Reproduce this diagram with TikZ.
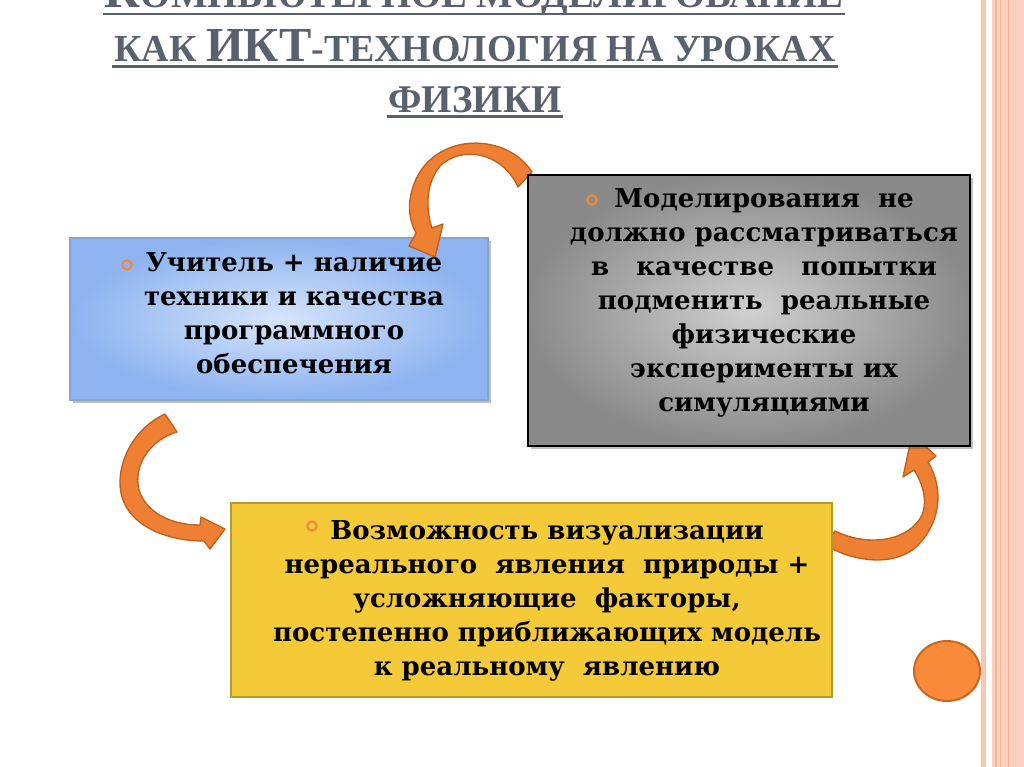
\documentclass[tikz,border=0pt]{standalone}
\usepackage{fontspec}
\setmainfont{DejaVu Serif}
\newfontfamily\titlefont{Liberation Serif}
\usetikzlibrary{shadows,shapes.geometric}
\definecolor{titlegray}{HTML}{59606E}
\definecolor{arrowfill}{HTML}{EF7F32}
\definecolor{arrowdark}{HTML}{E0702A}
\definecolor{arrowdraw}{HTML}{C0601C}
\definecolor{bulletor}{HTML}{F0883A}
\definecolor{blueout}{HTML}{8DB3F0}
\definecolor{bluein}{HTML}{D6E4FB}
\definecolor{blueedge}{HTML}{8AA4CC}
\definecolor{grayout}{HTML}{8A8A8A}
\definecolor{grayin}{HTML}{D0D0D0}
\definecolor{yellowfill}{HTML}{F4CA38}
\definecolor{yellowedge}{HTML}{B59B2A}
\definecolor{stripeA}{HTML}{F9C6B0}
\definecolor{stripeB}{HTML}{FBD0BE}
\definecolor{stripeC}{HTML}{F4B498}
\definecolor{ellfill}{HTML}{F98A3A}
\definecolor{elledge}{HTML}{C86820}
\begin{document}
\begin{tikzpicture}[x=0.75pt,y=-0.75pt,
  titlenode/.style={inner sep=0pt, anchor=base, text=titlegray, font=\titlefont\bfseries},
  uline/.style={draw=titlegray, line width=2.2pt},
  boxshadow/.style={drop shadow={shadow xshift=2pt, shadow yshift=-2.5pt, opacity=0.35, fill=black!70}},
  bluebox/.style={rectangle, draw=blueedge, line width=1pt, inner color=bluein, outer color=blueout, boxshadow},
  graybox/.style={rectangle, draw=black, line width=1.5pt, inner color=grayin, outer color=grayout, boxshadow},
  yellowbox/.style={rectangle, draw=yellowedge, line width=1.6pt, fill=yellowfill},
  bodytext/.style={inner sep=0pt, anchor=base, align=center, font=\bfseries\fontsize{19.5}{25.5}\selectfont},
  bulletdot/.style={circle, draw=bulletor, line width=1.6pt, minimum size=7pt, inner sep=0pt},
  blockarrow/.style={fill=arrowfill, draw=arrowdraw, line width=1pt, line join=round},
  endball/.style={ellipse, fill=ellfill, draw=elledge, line width=1.5pt, minimum width=49.5pt, minimum height=45pt, inner sep=0pt}
]
\useasboundingbox (0,0) rectangle (1024,767);
\fill[white] (0,0) rectangle (1024,767);
% right border stripes
\fill[stripeA] (981,0) rectangle (986,767);
\fill[stripeB] (992,0) rectangle (1024,767);
\fill[stripeC] (995,0) rectangle (997,767);
\fill[stripeC] (1000,0) rectangle (1001,767);
\fill[stripeC] (1008,0) rectangle (1009,767);

% title
\node[titlenode] (t1) at (474,8) {\resizebox{553.5pt}{24pt}{\fontsize{32}{32}\selectfont К\fontsize{25}{25}\selectfont ОМПЬЮТЕРНОЕ МОДЕЛИРОВАНИЕ}};
\node[titlenode] (t2) at (475,61) {\resizebox{540.75pt}{24pt}{\fontsize{25}{25}\selectfont КАК \fontsize{32}{32}\selectfont ИКТ\fontsize{25}{25}\selectfont -ТЕХНОЛОГИЯ НА УРОКАХ}};
\node[titlenode] (t3) at (475,112) {\resizebox{129.75pt}{19.5pt}{\fontsize{25}{25}\selectfont ФИЗИКИ}};
\draw[uline] ([xshift=-1pt,yshift=-4.5pt]t1.base west) -- ([xshift=1pt,yshift=-4.5pt]t1.base east);
\draw[uline] ([xshift=-2pt,yshift=-4pt]t2.base west) -- ([xshift=2pt,yshift=-4pt]t2.base east);
\draw[uline] ([xshift=-1pt,yshift=-3.5pt]t3.base west) -- ([xshift=1pt,yshift=-3.5pt]t3.base east);

% blue box
\node[bluebox, minimum width=313.5pt, minimum height=121.5pt] (blue) at (279,319) {};

% arrow 1 (gray -> blue)
\path[blockarrow] (532,172) .. controls (505,130) and (428,132) .. (412,190)
  .. controls (407,208) and (410,222) .. (416,233)
  -- (409,246) -- (435,257) -- (443,224) -- (432,228)
  .. controls (426,210) and (425,185) .. (440,166)
  .. controls (462,145) and (502,152) .. (518,187) -- cycle;

% arrow 3 (yellow -> gray)
\path[blockarrow] (825,545) -- (835,531)
  .. controls (870,548) and (910,540) .. (922,515)
  .. controls (928,500) and (922,482) .. (914,470)
  -- (903,477) -- (912,434) -- (936,456) -- (928,462)
  .. controls (945,490) and (940,525) .. (915,548)
  .. controls (890,568) and (850,560) .. (825,545) -- cycle;

% gray box
\node[graybox, minimum width=331.5pt, minimum height=203.25pt] (gray) at (749,310.5) {};

% yellow box
\node[yellowbox, minimum width=450.75pt, minimum height=145.5pt] (yellow) at (531.5,600) {};

% arrow 2 (blue -> yellow)
\path[blockarrow] (165,414) .. controls (130,430) and (114,470) .. (122,497)
  .. controls (130,525) and (165,541) .. (204,541)
  -- (210,549) -- (225,529) -- (201,517) -- (200,525)
  .. controls (170,525) and (146,512) .. (139,490)
  .. controls (133,465) and (150,440) .. (177,432) -- cycle;

% end ball
\node[endball] (ball) at (947,671) {};

% bullets
\node[bulletdot] (b1) at (127,265) {};
\node[bulletdot] (b2) at (592,200) {};
\node[bulletdot] (b3) at (312,526) {};

% texts (anchor base = last line)
\node[bodytext] (bluetext) at (294,373) {Учитель + наличие\\техники и качества\\программного\\обеспечения};
\node[bodytext] (graytext) at (764,411) {Моделирования\ \ не\\должно рассматриваться\\в\ \ \ качестве\ \ \ попытки\\подменить\ \ реальные\\физические\\эксперименты их\\симуляциями};
\node[bodytext] (yellowtext) at (547,675) {Возможность визуализации\\нереального\ \ явления\ \ природы +\\усложняющие\ \ факторы,\\постепенно приближающих модель\\к реальному\ \ явлению};
\end{tikzpicture}
\end{document}
